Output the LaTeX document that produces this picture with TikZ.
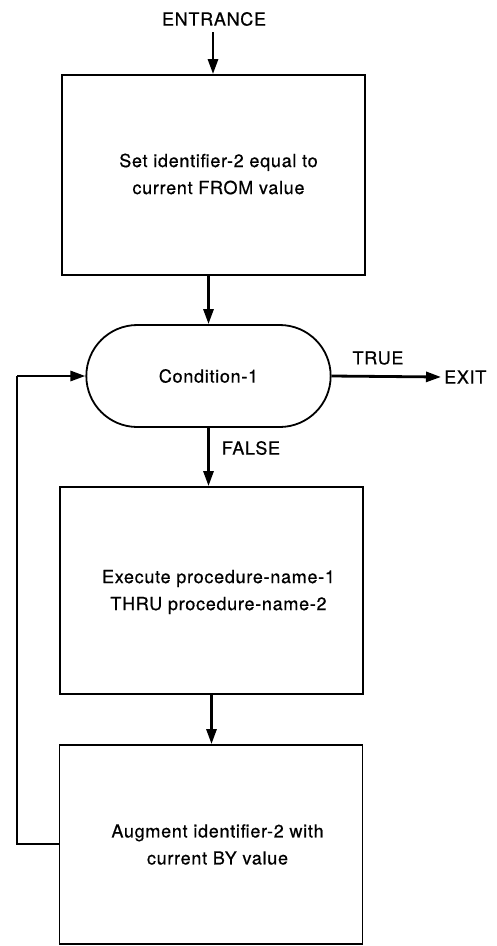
\documentclass[tikz,border=0pt]{standalone}
\usepackage{fontspec}
\setmainfont{TeX Gyre Heros}[LetterSpace=4,FakeBold=0.6]
\usetikzlibrary{arrows.meta,shapes.misc}
\begin{document}
\begin{tikzpicture}[x=1pt,y=-1pt,
  box/.style={draw,line width=1.8pt,minimum width=303pt,inner sep=0pt},
  txt/.style={align=center,font=\fontsize{18}{27}\selectfont,inner sep=0pt},
  oval/.style={draw,line width=1.8pt,rounded rectangle,minimum width=251pt,minimum height=102pt,font=\fontsize{18}{20}\selectfont},
  lbl/.style={font=\fontsize{18}{20}\selectfont,inner sep=0pt},
  arr/.style={line width=2.8pt,-{Triangle[length=15pt,width=10pt]}}]
\useasboundingbox (0,0) rectangle (497,946);
\node[box,minimum height=200pt] (b1) at (213.5,175) {};
\node[box,minimum height=207pt] (b2) at (211.5,590.5) {};
\node[box,minimum height=199pt] (b3) at (211,844.5) {};
\node[txt] (t1) at (218.5,174) {Set identifier-2 equal to\\current FROM value};
\node[txt] (t2) at (218.5,592) {Execute procedure-name-1\\THRU procedure-name-2};
\node[txt] (t3) at (217.5,844.5) {Augment identifier-2 with\\current BY value};
\node[oval] (c) at (208.5,376) {Condition-1};
\node[lbl] (ent) at (214,19) {ENTRANCE};
\node[lbl] (tru) at (378,358) {TRUE};
\node[lbl,anchor=west] (ex) at (444,377) {EXIT};
\node[lbl] (fal) at (251,448) {FALSE};
\coordinate (entend) at (213,32);
\coordinate (loopb) at (17,844);
\coordinate (loopt) at (17,376);
\draw[arr] (entend) -- (b1.north -| entend);
\draw[arr] (b1.south -| c.north) -- (c.north);
\draw[arr] (c.east) -- ([xshift=-3pt]ex.west);
\draw[arr] (c.south) -- (c.south |- b2.north);
\draw[arr] (b2.south) -- (b2.south |- b3.north);
\draw[line width=2.8pt] (b3.west |- loopb) -- (loopb) -- (loopt);
\draw[arr] (loopt) -- (c.west);
\end{tikzpicture}
\end{document}
